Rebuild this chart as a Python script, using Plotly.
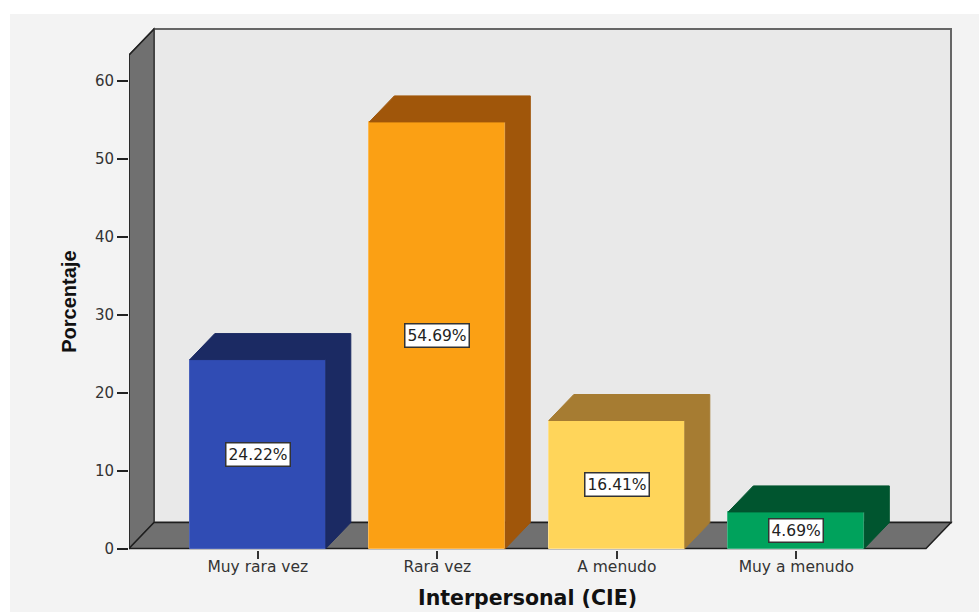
import plotly.graph_objects as go

categories = ["Muy rara vez", "Rara vez", "A menudo", "Muy a menudo"]
values = [24.22, 54.69, 16.41, 4.69]
y_ticks = [0, 10, 20, 30, 40, 50, 60]
x_title = "Interpersonal (CIE)"
y_title = "Porcentaje"
front_colors = ["#304CB4", "#FBA014", "#FFD55A", "#00A25C"]
shade_colors = ["#1B2A63", "#A0560A", "#A67C32", "#00552F"]
edge_colors = ["#4A62BC", "#FDB84E", "#FFE08A", "#3DB583"]

# canvas geometry (pixels)
W, H = 979, 612
PX_L, PX_R, PX_T, PX_B = 129, 954, 26, 550
PX_Y0, PX_PER_UNIT = 548.5, 7.8
PX_X0, PX_PER_CAT = 257.8, 179.5
BAR_W = 136 / PX_PER_CAT
DX, DY = 25 / PX_PER_CAT, 26 / PX_PER_UNIT
y_range = [(PX_Y0 - PX_B) / PX_PER_UNIT, (PX_Y0 - PX_T) / PX_PER_UNIT]
x_range = [(PX_L - PX_X0) / PX_PER_CAT, (PX_R - PX_X0) / PX_PER_CAT]
X_L = x_range[0]
X_FR = (926 - PX_X0) / PX_PER_CAT      # front right end of floor
TOP = (PX_Y0 - 55) / PX_PER_UNIT       # top of front edge of side wall


def poly(pts):
    return "M " + " L ".join(f"{x},{y}" for x, y in pts) + " Z"


pw = PX_R - PX_L
ph = PX_B - PX_T
shapes = [
    dict(type="rect", xref="paper", yref="paper", layer="below",
         x0=(10 - PX_L) / pw, x1=(W - PX_L) / pw,
         y0=(PX_B - H) / ph, y1=(PX_B - 14) / ph,
         fillcolor="#F3F3F3", line_width=0),
    dict(type="path", xref="x", yref="y", layer="below",
         path=poly([(X_L + DX, DY), (X_FR + DX, DY), (X_FR + DX, TOP + DY), (X_L + DX, TOP + DY)]),
         fillcolor="#E9E9E9", line=dict(color="#666666", width=2)),
    dict(type="path", xref="x", yref="y", layer="below",
         path=poly([(X_L, 0), (X_L + DX, DY), (X_L + DX, TOP + DY), (X_L, TOP)]),
         fillcolor="#707070", line=dict(color="#3A3A3A", width=1.5)),
    dict(type="path", xref="x", yref="y", layer="below",
         path=poly([(X_L, 0), (X_FR, 0), (X_FR + DX, DY), (X_L + DX, DY)]),
         fillcolor="#707070", line=dict(color="#1E1E1E", width=1.5)),
]

fig = go.Figure()

# left edge of the side wall, which sits on the plot-area border
fig.add_trace(go.Scatter(x=[X_L, X_L, X_L + DX], y=[0, TOP, TOP + DY], mode="lines",
                         line=dict(color="#222222", width=1.5), cliponaxis=False,
                         hoverinfo="skip", showlegend=False))

fig.add_trace(go.Bar(x=list(range(len(values))), y=values, width=BAR_W,
                     marker=dict(color=front_colors, line=dict(color=edge_colors, width=1)),
                     hoverinfo="skip", showlegend=False))

# extruded top and side of each bar
for i, (v, c, e) in enumerate(zip(values, shade_colors, edge_colors)):
    a, b = i - BAR_W / 2, i + BAR_W / 2
    fig.add_trace(go.Scatter(
        x=[a, a + DX, b + DX, b + DX, b, b, a],
        y=[v, v + DY, v + DY, DY, 0, v, v],
        mode="lines", fill="toself", fillcolor=c, line=dict(color=c, width=1),
        hoverinfo="skip", showlegend=False))

annotations = [
    dict(x=i, y=v / 2, xref="x", yref="y", text=f"{v:.2f}%", showarrow=False,
         font=dict(family="DejaVu Sans", size=15.5, color="#222222"),
         bgcolor="#FFFFFF", bordercolor="#333333", borderwidth=1.5, borderpad=2)
    for i, v in enumerate(values)
]
annotations.append(dict(
    x=(X_L + X_FR) / 2, xref="x", y=(PX_B - 598) / ph, yref="paper", text=x_title,
    showarrow=False, xanchor="center", yanchor="middle",
    font=dict(family="DejaVu Sans", size=20.5, color="#111111", weight=700)))
annotations.append(dict(
    x=(69 - PX_L) / pw, xref="paper", y=TOP / 2, yref="y", text=y_title, textangle=-90,
    showarrow=False, xanchor="center", yanchor="middle",
    font=dict(family="Liberation Sans", size=20, color="#111111", weight=700)))

fig.update_layout(
    width=W, height=H,
    margin=dict(l=PX_L, r=W - PX_R, t=PX_T, b=H - PX_B, pad=0, autoexpand=False),
    paper_bgcolor="#FFFFFF", plot_bgcolor="rgba(0,0,0,0)",
    shapes=shapes, annotations=annotations, showlegend=False,
    bargap=0,
    xaxis=dict(range=x_range, tickmode="array", tickvals=list(range(len(categories))),
               ticktext=categories, ticks="outside", ticklen=8, tickwidth=1.5,
               tickcolor="#333333", showgrid=False, zeroline=False, showline=False,
               automargin=False, ticklabelstandoff=-6,
               tickfont=dict(family="DejaVu Sans", size=15.5, color="#333333")),
    yaxis=dict(range=y_range, tickmode="array", tickvals=y_ticks, ticks="outside", ticklen=11,
               tickwidth=1.5, tickcolor="#222222", showgrid=False, zeroline=False, showline=False,
               automargin=False,
               tickfont=dict(family="DejaVu Sans", size=15, color="#333333")),
)

fig.write_html("out.html", config={"displayModeBar": False},
               post_script="document.body.style.margin='0';document.body.style.overflow='hidden';")
